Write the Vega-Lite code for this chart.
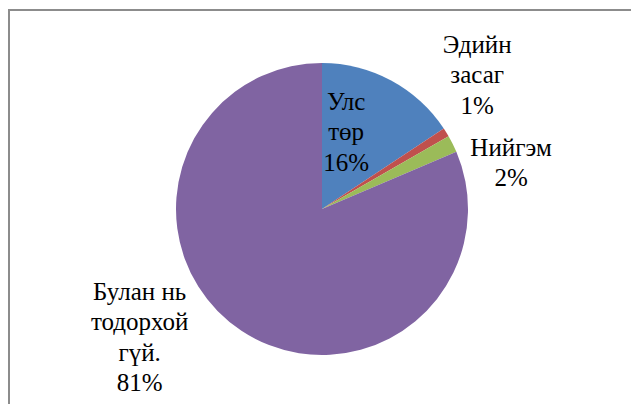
{
  "$schema": "https://vega.github.io/schema/vega-lite/v6.json",
  "width": 626,
  "height": 398,
  "autosize": {"type": "none"},
  "padding": {"left": 9, "top": 10, "right": 0, "bottom": 0},
  "background": "white",
  "view": {"stroke": "#8c8c8c", "strokeWidth": 2},
  "data": {
    "values": [
      {"category": "Улс төр", "rank": 1, "value": 15.7, "label": "Улс\nтөр\n16%"},
      {"category": "Эдийн засаг", "rank": 2, "value": 1.0, "label": "Эдийн\nзасаг\n1%"},
      {"category": "Нийгэм", "rank": 3, "value": 1.9, "label": "Нийгэм\n2%"},
      {"category": "Булан нь тодорхой гүй.", "rank": 4, "value": 81.4, "label": "Булан нь\nтодорхой\nгүй.\n81%"}
    ]
  },
  "encoding": {
    "theta": {"field": "value", "type": "quantitative", "stack": true},
    "order": {"field": "rank", "type": "quantitative"},
    "detail": {"field": "category", "type": "nominal"}
  },
  "layer": [
    {
      "mark": {"type": "arc", "outerRadius": 146},
      "encoding": {
        "color": {
          "field": "category",
          "type": "nominal",
          "scale": {
            "domain": ["Улс төр", "Эдийн засаг", "Нийгэм", "Булан нь тодорхой гүй."],
            "range": ["#4F81BD", "#C0504D", "#9BBB59", "#8064A2"]
          },
          "legend": null
        }
      }
    },
    {
      "mark": {"type": "text", "radius": 89, "dx": -18, "dy": -29, "font": "Liberation Serif, Liberation Sans", "fontSize": 25, "lineHeight": 30.5, "lineBreak": "\n", "align": "center", "baseline": "middle", "fill": "black"},
      "encoding": {"text": {"condition": {"test": "datum.category === 'Улс төр'", "field": "label"}, "value": ""}}
    },
    {
      "mark": {"type": "text", "radius": 200, "dx": -15, "dy": -59, "font": "Liberation Serif, Liberation Sans", "fontSize": 25, "lineHeight": 30.5, "lineBreak": "\n", "align": "center", "baseline": "middle", "fill": "black"},
      "encoding": {"text": {"condition": {"test": "datum.category === 'Эдийн засаг'", "field": "label"}, "value": ""}}
    },
    {
      "mark": {"type": "text", "radius": 200, "dx": 10, "dy": 28, "font": "Liberation Serif, Liberation Sans", "fontSize": 25, "lineHeight": 30.5, "lineBreak": "\n", "align": "center", "baseline": "middle", "fill": "black"},
      "encoding": {"text": {"condition": {"test": "datum.category === 'Нийгэм'", "field": "label"}, "value": ""}}
    },
    {
      "mark": {"type": "text", "radius": 200, "dx": -72, "dy": -84, "font": "Liberation Serif, Liberation Sans", "fontSize": 25, "lineHeight": 30.5, "lineBreak": "\n", "align": "center", "baseline": "middle", "fill": "black"},
      "encoding": {"text": {"condition": {"test": "datum.category === 'Булан нь тодорхой гүй.'", "field": "label"}, "value": ""}}
    }
  ]
}
